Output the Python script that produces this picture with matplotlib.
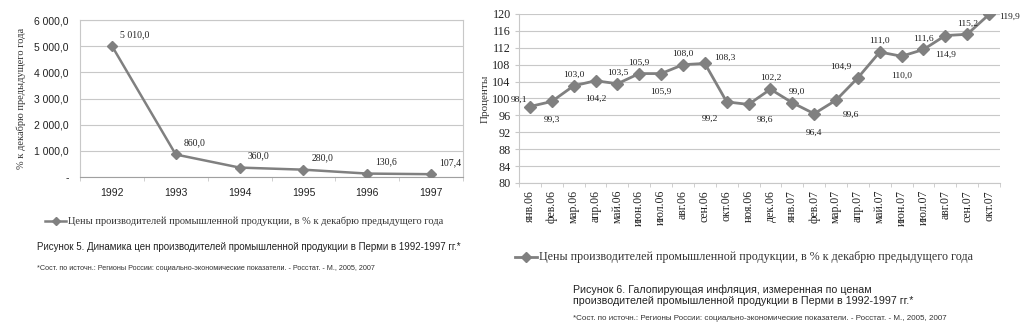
"""Two line charts: producer price index in Perm, 1992-1997 and monthly 2006-2007."""
import matplotlib
matplotlib.use("Agg")
import matplotlib.pyplot as plt
from matplotlib.ticker import FuncFormatter, FixedLocator

# ---- data ----
years = ["1992", "1993", "1994", "1995", "1996", "1997"]
annual_vals = [5010.0, 860.0, 360.0, 280.0, 130.6, 107.4]

months = ["янв.06", "фев.06", "мар.06", "апр.06", "май.06", "июн.06", "июл.06",
          "авг.06", "сен.06", "окт.06", "ноя.06", "дек.06", "янв.07", "фев.07",
          "мар.07", "апр.07", "май.07", "июн.07", "июл.07", "авг.07", "сен.07",
          "окт.07"]
monthly_vals = [98.1, 99.3, 103.0, 104.2, 103.5, 105.9, 105.9, 108.0, 108.3, 99.2,
                98.6, 102.2, 99.0, 96.4, 99.6, 104.9, 111.0, 110.0, 111.6, 114.9,
                115.2, 119.9]

legend_text = "Цены производителей промышленной продукции, в % к декабрю предыдущего года"
caption5 = "Рисунок 5. Динамика цен производителей промышленной продукции в Перми в 1992-1997 гг.*"
caption6 = ("Рисунок 6. Галопирующая инфляция, измеренная по ценам\n"
            "производителей промышленной продукции в Перми в 1992-1997 гг.*")
source = "*Сост. по источн.: Регионы России: социально-экономические показатели. - Росстат. - М., 2005, 2007"

# label placement for the monthly chart: (dx, dy) in points, alignment
month_label_pos = [(-2, 2, "right"), (0, -10, "center"), (0, 5, "center"), (0, -10, "center"),
                   (0, 5, "center"), (0, 5, "center"), (0, -10, "center"), (0, 5, "center"),
                   (7, 1, "left"), (-6, -9, "right"), (6, -8, "left"), (0, 5, "center"),
                   (3, 5, "center"), (0, -11, "center"), (5, -8, "left"), (-5, 5, "right"),
                   (0, 5, "center"), (0, -11, "center"), (0, 5, "center"), (0, -11, "center"),
                   (0, 5, "center"), (7, -2, "left")]

W, H = 1034, 336
GREY = "#808080"
GRID = "#c8c8c8"
SERIF = "Liberation Serif"
SANS = "Liberation Sans"


def px_axes(fig, x0, y0, x1, y1):
    return fig.add_axes([x0 / W, 1 - y1 / H, (x1 - x0) / W, (y1 - y0) / H])


def ru(v, thousands=False):
    s = f"{v:,.1f}" if thousands else f"{v:.1f}"
    return s.replace(",", " ").replace(".", ",")


def legend_key(fig, x0, x1, y, lw, ms):
    fig.lines.append(plt.Line2D([x0 / W, (x0 + x1) / 2 / W, x1 / W], [1 - y / H] * 3,
                                transform=fig.transFigure, color=GREY, lw=lw,
                                marker="D", ms=ms, markevery=[1], figure=fig))


fig = plt.figure(figsize=(W / 100, H / 100), dpi=100)

# ---- Figure 5 ----
ax = px_axes(fig, 80, 20, 463, 177)
x = [i + 0.5 for i in range(len(years))]
ax.plot(x, annual_vals, color=GREY, lw=1.8, marker="D", ms=5.5, zorder=3)
ax.set_xlim(0, len(years))
ax.set_ylim(0, 6000)
ax.set_yticks(range(0, 6001, 1000))
ax.yaxis.set_major_formatter(FuncFormatter(lambda v, p: "-" if v == 0 else ru(v, True)))
ax.set_xticks(x)
ax.set_xticklabels(years)
ax.xaxis.set_minor_locator(FixedLocator(range(len(years) + 1)))
ax.tick_params(axis="x", which="major", length=0, pad=8)
ax.tick_params(axis="x", which="minor", length=3, color=GRID)
ax.tick_params(axis="y", length=0, pad=8)
for lab in ax.get_xticklabels() + ax.get_yticklabels():
    lab.set_fontfamily(SANS)
    lab.set_fontsize(7.5)
    lab.set_color("#222222")
ax.grid(axis="y", color=GRID, lw=0.8)
ax.set_axisbelow(True)
for s in ax.spines.values():
    s.set_color(GRID)
ax.spines["bottom"].set_color("#a0a0a0")
ax.set_ylabel("% к декабрю предыдущего года", family=SERIF, fontsize=7.5,
              color="#333333", labelpad=6)
for xi, v in zip(x, annual_vals):
    ax.annotate(ru(v, True), (xi, v), xytext=(6, 5), textcoords="offset points",
                ha="left", va="bottom", family=SERIF, fontsize=7.0, color="#222222")

legend_key(fig, 45, 66, 221, 1.8, 4)
fig.text(68 / W, 1 - 221 / H, legend_text, family=SERIF, fontsize=7.5,
         color="#333333", va="center", ha="left")
fig.text(37 / W, 1 - 247 / H, caption5, family=SANS, fontsize=7.0,
         color="#222222", va="center", ha="left")
fig.text(37 / W, 1 - 268 / H, source, family=SANS, fontsize=5.25,
         color="#333333", va="center", ha="left")

# ---- Figure 6 ----
ax2 = px_axes(fig, 519, 14, 1000, 183)
x2 = [i + 0.5 for i in range(len(months))]
ax2.plot(x2, monthly_vals, color=GREY, lw=2.0, marker="D", ms=6.5, zorder=3)
ax2.set_xlim(0, len(months))
ax2.set_ylim(80, 120)
ax2.set_yticks(range(80, 121, 4))
ax2.set_xticks(x2)
ax2.set_xticklabels(months, rotation=90)
ax2.xaxis.set_minor_locator(FixedLocator(range(len(months) + 1)))
ax2.tick_params(axis="x", which="major", length=0, pad=5)
ax2.tick_params(axis="x", which="minor", length=3, color=GRID)
ax2.tick_params(axis="y", length=3, color=GRID, pad=3)
for lab in ax2.get_xticklabels():
    lab.set_fontfamily(SERIF)
    lab.set_fontsize(8.5)
    lab.set_color("#222222")
for lab in ax2.get_yticklabels():
    lab.set_fontfamily(SERIF)
    lab.set_fontsize(8.7)
    lab.set_color("#222222")
ax2.grid(axis="y", color=GRID, lw=0.8)
ax2.set_axisbelow(True)
ax2.spines["top"].set_visible(False)
ax2.spines["right"].set_visible(False)
ax2.spines["left"].set_color(GRID)
ax2.spines["bottom"].set_color(GRID)
ax2.set_ylabel("Проценты", family=SERIF, fontsize=8, color="#333333")
ax2.yaxis.set_label_coords(-0.06, 0.5)
for xi, v, (dx, dy, ha) in zip(x2, monthly_vals, month_label_pos):
    ax2.annotate(ru(v), (xi, v), xytext=(dx, dy), textcoords="offset points",
                 ha=ha, va="bottom" if dy > 0 else "center" if dy > -5 else "top",
                 family=SERIF, fontsize=6.8, color="#222222")

legend_key(fig, 515, 537, 257, 2.0, 5.5)
fig.text(539 / W, 1 - 257 / H, legend_text, family=SERIF, fontsize=8.65,
         color="#333333", va="center", ha="left")
fig.text(573 / W, 1 - 295.5 / H, caption6, family=SANS, fontsize=7.7,
         color="#222222", va="center", ha="left", linespacing=1.15)
fig.text(573 / W, 1 - 318 / H, source, family=SANS, fontsize=5.8,
         color="#333333", va="center", ha="left")

fig.savefig("out.png", dpi=100)
